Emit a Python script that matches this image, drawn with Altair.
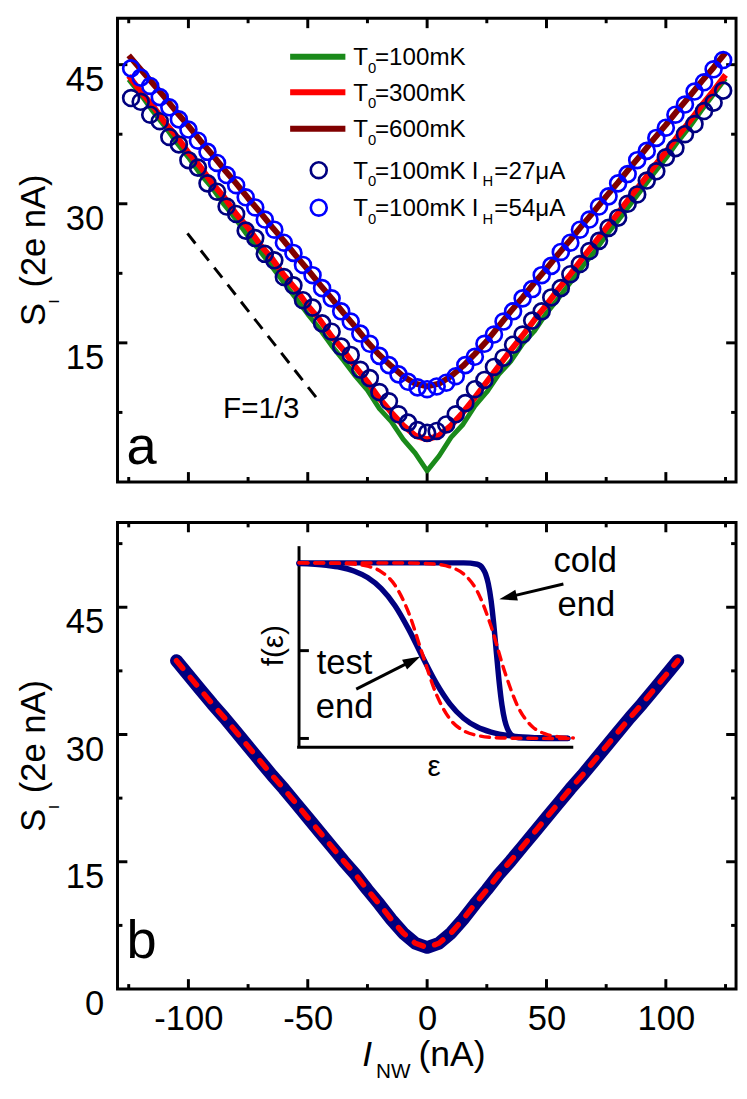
import altair as alt
import pandas as pd

FONT = "Liberation Sans"

# ---------------- Panel a data ----------------
line_x = [-125, -120, -115, -110, -105, -100, -95, -90, -85, -80, -75, -70, -65, -60, -55, -50,
          -45, -40, -35, -30, -25, -20, -15, -10, -5, 0, 5, 10, 15, 20, 25, 30, 35, 40, 45, 50,
          55, 60, 65, 70, 75, 80, 85, 90, 95, 100, 105, 110, 115, 120, 125]
green_100mK = [43.4, 41.8, 40.0, 38.4, 36.6, 35.0, 33.2, 31.7, 29.9, 28.3, 26.5, 24.9, 23.2, 21.5,
               19.8, 18.1, 16.5, 14.7, 13.1, 11.4, 9.9, 7.9, 6.5, 4.6, 3.1, 1.2, 2.8, 4.8, 6.2, 8.2,
               9.7, 11.6, 13.0, 14.9, 16.3, 18.2, 19.8, 21.5, 23.2, 24.8, 26.6, 28.2, 29.9, 31.6,
               33.3, 34.9, 36.7, 38.3, 40.1, 41.8, 43.5]
red_300mK = [43.8, 42.1, 40.6, 38.8, 37.3, 35.5, 34.0, 32.2, 30.7, 28.9, 27.4, 25.6, 24.1, 22.3,
             20.8, 19.0, 17.5, 15.7, 14.2, 12.4, 10.8, 9.0, 7.5, 6.1, 5.0, 4.6, 5.0, 6.1, 7.5, 9.1,
             10.8, 12.5, 14.2, 15.8, 17.5, 19.1, 20.8, 22.4, 24.1, 25.7, 27.4, 29.0, 30.7, 32.3,
             34.0, 35.6, 37.3, 38.9, 40.6, 42.2, 43.9]
darkred_600mK = [46.0, 44.5, 43.0, 41.5, 39.9, 38.4, 36.8, 35.3, 33.7, 32.2, 30.6, 29.1, 27.5, 26.0,
                 24.4, 22.9, 21.3, 19.8, 18.2, 16.7, 15.1, 13.7, 12.5, 11.4, 10.6, 10.3, 10.6, 11.4,
                 12.5, 13.8, 15.2, 16.8, 18.4, 19.9, 21.5, 23.0, 24.6, 26.1, 27.7, 29.2, 30.8, 32.3,
                 33.9, 35.4, 37.0, 38.5, 40.1, 41.6, 43.2, 44.7, 46.3]

circ_x = [-124, -120, -116, -112, -108, -104, -100, -96, -92, -88, -84, -80, -76, -72, -68, -64,
          -60, -56, -52, -48, -44, -40, -36, -32, -28, -24, -20, -16, -12, -8, -4, 0, 4, 8, 12, 16,
          20, 24, 28, 32, 36, 40, 44, 48, 52, 56, 60, 64, 68, 72, 76, 80, 84, 88, 92, 96, 100, 104,
          108, 112, 116, 120, 124]
navy_27uA = [41.4, 41.0, 39.6, 38.9, 37.2, 36.4, 34.7, 33.9, 32.2, 31.3, 29.7, 28.9, 27.1, 26.3,
             24.6, 23.9, 22.1, 21.2, 19.6, 18.8, 17.1, 16.2, 14.6, 13.7, 12.1, 11.2, 9.7, 8.7, 7.3,
             6.4, 5.6, 5.3, 5.5, 6.2, 7.3, 8.5, 10.0, 11.0, 12.4, 13.4, 14.8, 15.9, 17.4, 18.4, 19.9,
             20.9, 22.4, 23.5, 24.9, 26.0, 27.4, 28.5, 30.0, 31.0, 32.5, 33.5, 35.0, 36.0, 37.5,
             38.6, 40.0, 40.9, 42.2]
blue_54uA = [44.6, 43.6, 42.7, 41.5, 40.4, 39.1, 38.0, 36.8, 35.6, 34.4, 33.1, 32.0, 30.7, 29.6,
             28.3, 27.2, 25.8, 24.7, 23.4, 22.3, 20.9, 19.8, 18.4, 17.3, 16.0, 14.9, 13.6, 12.6,
             11.6, 10.8, 10.2, 10.0, 10.3, 10.7, 11.4, 12.6, 13.5, 14.9, 15.9, 17.3, 18.4, 19.8,
             20.8, 22.3, 23.3, 24.8, 25.8, 27.2, 28.3, 29.7, 30.8, 32.2, 33.2, 34.7, 35.7, 37.1,
             38.2, 39.6, 40.7, 42.1, 43.1, 44.5, 45.5]

# F = 1/3 guide line
f13_x = [-100.4, -44.6]
f13_y = [26.8, 8.5]

# ---------------- Panel b data ----------------
b_x = [-105, -100, -95, -90, -85, -80, -75, -70, -65, -60, -55, -50, -45, -40, -35, -30, -25, -20,
       -15, -10, -5, 0, 5, 10, 15, 20, 25, 30, 35, 40, 45, 50, 55, 60, 65, 70, 75, 80, 85, 90, 95,
       100, 105]
b_y = [38.7, 37.0, 35.3, 33.6, 32.0, 30.3, 28.6, 26.9, 25.2, 23.6, 21.9, 20.2, 18.5, 16.8, 15.1,
       13.5, 11.7, 10.0, 8.2, 6.6, 5.4, 4.9, 5.4, 6.6, 8.2, 10.0, 11.7, 13.5, 15.1, 16.8, 18.5,
       20.2, 21.9, 23.6, 25.2, 26.9, 28.6, 30.3, 32.0, 33.6, 35.3, 37.0, 38.7]

# inset distribution functions f(eps)
eps_test = [0, 0.1, 0.15, 0.2, 0.25, 0.3, 0.35, 0.4, 0.45, 0.5, 0.55, 0.6, 0.65, 0.7, 0.8, 0.9, 0.98]
f_test = [0.996, 0.986, 0.975, 0.954, 0.916, 0.853, 0.756, 0.621, 0.465, 0.316, 0.197, 0.115,
          0.065, 0.036, 0.010, 0.003, 0.001]
eps_cold = [0, 0.3, 0.6, 0.65, 0.67, 0.68, 0.69, 0.70, 0.71, 0.72, 0.73, 0.74, 0.75, 0.76, 0.77,
            0.78, 0.80, 0.9, 0.98]
f_cold = [1.0, 1.0, 1.0, 0.992, 0.968, 0.938, 0.882, 0.789, 0.651, 0.483, 0.318, 0.189, 0.104,
          0.055, 0.028, 0.014, 0.004, 0.0, 0.0]
eps_red1 = [0, 0.15, 0.2, 0.25, 0.3, 0.35, 0.4, 0.45, 0.5, 0.55, 0.6, 0.65, 0.7, 0.8, 1.0]
f_red1 = [1.0, 0.997, 0.993, 0.981, 0.949, 0.872, 0.715, 0.480, 0.254, 0.111, 0.044, 0.017,
          0.006, 0.001, 0.0]
eps_red2 = [0, 0.4, 0.5, 0.55, 0.6, 0.65, 0.7, 0.75, 0.8, 0.85, 0.9, 0.95, 1.0]
f_red2 = [1.0, 0.999, 0.992, 0.977, 0.937, 0.838, 0.640, 0.380, 0.175, 0.068, 0.025, 0.009, 0.003]
inset_ticks = [0, 0.5, 1]

# tick values
x_major = [-100, -50, 0, 50, 100]
x_minor = [-125, -75, -25, 25, 75, 125]
ya_major = [15, 30, 45]
ya_minor = [7.5, 22.5, 37.5]
yb_major = [15, 30, 45]
yb_minor = [7.5, 22.5, 37.5, 52.5]

# ---------------- helpers ----------------
W, HA, HB = 627, 470, 473
one = pd.DataFrame({"k": [0]})

xs = alt.Scale(domain=[-129.7, 129.4], nice=False, zero=False)
ysa = alt.Scale(domain=[0, 50], nice=False, zero=False)
ysb = alt.Scale(domain=[0, 55], nice=False, zero=False)
xsi = alt.Scale(domain=[-0.6619, 1.5935], nice=False, zero=False)
ysi = alt.Scale(domain=[-1.427, 1.2303], nice=False, zero=False)

LBL = 35
yaxis_a = alt.Axis(values=ya_major, ticks=False, tickSize=0, domain=False, grid=False, title=None,
                   labelFontSize=LBL, labelPadding=14, labelOffset=15, labelFont=FONT,
                   labelColor="black")
yaxis_b = alt.Axis(values=[0] + yb_major, ticks=False, tickSize=0, domain=False, grid=False,
                   title=None, labelFontSize=LBL, labelPadding=14, labelOffset=15, labelFont=FONT,
                   labelColor="black")
xaxis_b = alt.Axis(values=x_major, ticks=False, tickSize=0, domain=False, grid=False, title=None,
                   labelFontSize=LBL, labelPadding=13, labelFont=FONT, labelColor="black",
                   labelFlush=False, labelExpr="datum.value + ''")


def txt(s, x, y, size, angle=0, align="left", baseline="alphabetic", style="normal"):
    return alt.Chart(one).mark_text(text=s, fontSize=size, font=FONT, align=align,
                                    baseline=baseline, angle=angle, fontStyle=style,
                                    color="black").encode(x=alt.value(x), y=alt.value(y))


def xticks(vals, scale, axis, H, length):
    d = pd.DataFrame({"v": vals})
    bot = alt.Chart(d).mark_rule(color="black", strokeWidth=3).encode(
        x=alt.X("v:Q", scale=scale, axis=axis), y=alt.value(H), y2=alt.value(H - length))
    top = alt.Chart(d).mark_rule(color="black", strokeWidth=3).encode(
        x=alt.X("v:Q", scale=scale, axis=axis), y=alt.value(0), y2=alt.value(length))
    return [bot, top]


def yticks(vals, scale, axis, length):
    d = pd.DataFrame({"v": vals})
    left = alt.Chart(d).mark_rule(color="black", strokeWidth=3).encode(
        y=alt.Y("v:Q", scale=scale, axis=axis), x=alt.value(0), x2=alt.value(length))
    right = alt.Chart(d).mark_rule(color="black", strokeWidth=3).encode(
        y=alt.Y("v:Q", scale=scale, axis=axis), x=alt.value(W), x2=alt.value(W - length))
    return [left, right]


# ---------------- Panel a ----------------
dfa = pd.DataFrame({"x": line_x, "g": green_100mK, "r": red_300mK, "d": darkred_600mK})
dfc = pd.DataFrame({"x": circ_x, "n": navy_27uA, "b": blue_54uA})
dff = pd.DataFrame({"x": f13_x, "y": f13_y})


def aline(field, color, width):
    return alt.Chart(dfa).mark_line(color=color, strokeWidth=width, strokeJoin="round").encode(
        x=alt.X("x:Q", scale=xs, axis=None), y=alt.Y(field + ":Q", scale=ysa, axis=yaxis_a))


def acirc(field, color):
    return alt.Chart(dfc).mark_point(shape="circle", filled=False, size=260, strokeWidth=2.7,
                                     color=color, opacity=1).encode(
        x=alt.X("x:Q", scale=xs, axis=None), y=alt.Y(field + ":Q", scale=ysa, axis=yaxis_a))


layers_a = []
layers_a += xticks(x_major, xs, None, HA, 10) + xticks(x_minor, xs, None, HA, 5)
layers_a += yticks(ya_major, ysa, yaxis_a, 10) + yticks(ya_minor, ysa, yaxis_a, 5)
layers_a += [aline("g", "#1a8a1a", 5), aline("r", "#ff0000", 6), aline("d", "#800000", 6),
             acirc("n", "#000080"), acirc("b", "#0000ff")]
layers_a.append(alt.Chart(dff).mark_line(color="black", strokeWidth=3, strokeDash=[13, 9]).encode(
    x=alt.X("x:Q", scale=xs, axis=None), y=alt.Y("y:Q", scale=ysa, axis=yaxis_a)))
layers_a.append(txt("F=1/3", 107, 405, 30))
layers_a.append(txt("a", 9, 452, 55))

# legend
leg_rows = [("#1a8a1a", "line", "=100mK", None), ("#ff0000", "line", "=300mK", None),
            ("#800000", "line", "=600mK", None), ("#000080", "circ", "=100mK", "=27μA"),
            ("#0000ff", "circ", "=100mK", "=54μA")]
leg_base = [47.6, 83.6, 120.6, 162.6, 200.6]
for (col, kind, t1, t2), yb in zip(leg_rows, leg_base):
    yc = yb - 8.6
    if kind == "line":
        layers_a.append(alt.Chart(one).mark_rule(color=col, strokeWidth=6).encode(
            x=alt.value(175), x2=alt.value(231), y=alt.value(yc)))
    else:
        layers_a.append(alt.Chart(one).mark_point(shape="circle", filled=False, size=260,
                                                  strokeWidth=2.7, color=col, opacity=1).encode(
            x=alt.value(204), y=alt.value(yc)))
    layers_a.append(txt("T", 239, yb, 24.5))
    layers_a.append(txt("0", 254, yb + 7.5, 15))
    layers_a.append(txt(t1, 261, yb, 24.5))
    if t2:
        layers_a.append(txt("I", 359, yb, 24.5))
        layers_a.append(txt("H", 370, yb + 7.5, 15))
        layers_a.append(txt(t2, 382, yb, 24.5))

# y title panel a
layers_a.append(txt("S", -73, 312, 35, angle=270))
layers_a.append(txt("I", -59, 289, 15, angle=270))
layers_a.append(txt("(2e nA)", -73, 273, 35, angle=270))

panel_a = alt.layer(*layers_a).properties(width=W, height=HA)

# ---------------- Panel b ----------------
dfb = pd.DataFrame({"x": b_x, "y": b_y})
main_b = []
main_b += xticks(x_major, xs, xaxis_b, HB, 10) + xticks(x_minor, xs, xaxis_b, HB, 5)
main_b += yticks(yb_major, ysb, yaxis_b, 10) + yticks(yb_minor, ysb, yaxis_b, 5)
main_b.append(alt.Chart(dfb).mark_line(color="#000080", strokeWidth=13, strokeCap="round",
                                       strokeJoin="round").encode(
    x=alt.X("x:Q", scale=xs, axis=xaxis_b), y=alt.Y("y:Q", scale=ysb, axis=yaxis_b)))
main_b.append(alt.Chart(dfb).mark_line(color="#ff0000", strokeWidth=5.5, strokeCap="round",
                                       strokeDash=[10, 12]).encode(
    x=alt.X("x:Q", scale=xs, axis=xaxis_b), y=alt.Y("y:Q", scale=ysb, axis=yaxis_b)))
main_b.append(txt("b", 9, 442, 55))
main_b.append(txt("S", -73, 313.5, 35, angle=270))
main_b.append(txt("I", -59, 290.5, 15, angle=270))
main_b.append(txt("(2e nA)", -73, 274.5, 35, angle=270))
# x title
main_b.append(txt("I", 248, 551, 36, style="italic"))
main_b.append(txt("NW", 262, 563, 21))
main_b.append(txt("(nA)", 305, 551, 36))
# inset labels
main_b.append(txt("f(ε)", 159, 125, 30, angle=270, align="center", baseline="middle"))
main_b.append(txt("ε", 321, 248, 30, align="center", baseline="middle"))
main_b.append(txt("test", 202, 154, 35))
main_b.append(txt("end", 201, 198, 35))
main_b.append(txt("cold", 442, 50, 35))
main_b.append(txt("end", 446, 95, 35))
# arrows
head = "M0,-1L0.62,1L-0.62,1Z"
main_b.append(alt.Chart(one).mark_rule(color="black", strokeWidth=3).encode(
    x=alt.value(452), y=alt.value(62.5), x2=alt.value(397), y2=alt.value(75.5)))
main_b.append(alt.Chart(one).mark_point(shape=head, filled=True, size=324, angle=256.6,
                                        color="black", opacity=1).encode(
    x=alt.value(395.8), y=alt.value(75.9)))
main_b.append(alt.Chart(one).mark_rule(color="black", strokeWidth=3).encode(
    x=alt.value(242), y=alt.value(169), x2=alt.value(298), y2=alt.value(140.6)))
main_b.append(alt.Chart(one).mark_point(shape=head, filled=True, size=324, angle=63,
                                        color="black", opacity=1).encode(
    x=alt.value(299), y=alt.value(140.1)))

# inset with its own scales
dti = pd.DataFrame({"e": eps_test, "f": f_test})
dci = pd.DataFrame({"e": eps_cold, "f": f_cold})
dr1 = pd.DataFrame({"e": eps_red1, "f": f_red1})
dr2 = pd.DataFrame({"e": eps_red2, "f": f_red2})
dtk = pd.DataFrame({"f": inset_ticks})


def iline(df, color, width, dash=None):
    kw = dict(color=color, strokeWidth=width, interpolate="monotone", strokeCap="round")
    if dash:
        kw["strokeDash"] = dash
    return alt.Chart(df).mark_line(**kw).encode(
        x=alt.X("e:Q", scale=xsi, axis=None), y=alt.Y("f:Q", scale=ysi, axis=None))


inset = alt.layer(
    alt.Chart(one).mark_rule(color="black", strokeWidth=3).encode(
        x=alt.datum(0, scale=xsi, axis=None), y=alt.datum(-0.05, scale=ysi, axis=None),
        y2=alt.datum(1.095)),
    alt.Chart(one).mark_rule(color="black", strokeWidth=3).encode(
        x=alt.datum(-0.007, scale=xsi, axis=None), x2=alt.datum(1.0),
        y=alt.datum(-0.05, scale=ysi, axis=None)),
    alt.Chart(dtk).mark_rule(color="black", strokeWidth=3).encode(
        y=alt.Y("f:Q", scale=ysi, axis=None), x=alt.value(184), x2=alt.value(194)),
    iline(dti, "#000080", 5.5),
    iline(dci, "#000080", 5.5),
    iline(dr1, "#ff0000", 3.5, [9, 7]),
    iline(dr2, "#ff0000", 3.5, [9, 7]),
)

panel_b = alt.layer(alt.layer(*main_b), inset).resolve_scale(
    x="independent", y="independent").properties(width=W, height=HB)

chart = alt.vconcat(panel_a, panel_b, spacing=35).properties(
    padding={"left": 8, "top": 0, "right": 0, "bottom": 5}
).configure_view(stroke="black", strokeWidth=3).configure_axis(
    labelFont=FONT, labelColor="black").configure_text(font=FONT)

chart.save("out.html", embed_options={"renderer": "svg", "actions": False})
